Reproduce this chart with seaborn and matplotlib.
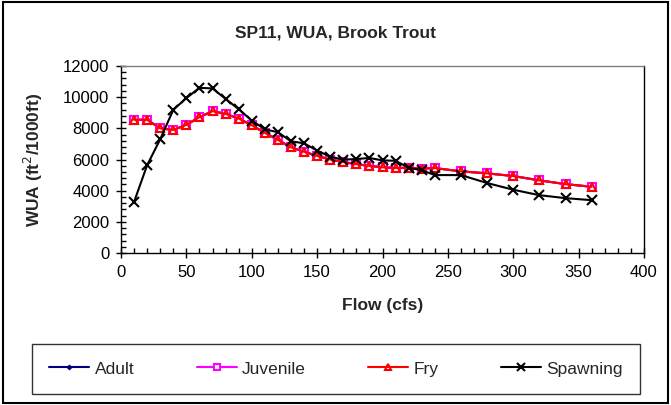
import numpy as np
import pandas as pd
import seaborn as sns
import matplotlib.pyplot as plt
from matplotlib.patches import Rectangle
from matplotlib.ticker import MultipleLocator

# ----- Data ----- #
flow = [10, 20, 30, 40, 50, 60, 70, 80, 90, 100, 110, 120, 130, 140, 150,
        160, 170, 180, 190, 200, 210, 220, 230, 240, 260, 280, 300, 320, 340, 360]

adult = [8550, 8550, 8000, 7900, 8220, 8720, 9100, 8930, 8630, 8200, 7710, 7260,
         6780, 6500, 6230, 6000, 5840, 5700, 5590, 5500, 5460, 5460, 5420, 5450,
         5240, 5110, 4940, 4660, 4420, 4250]
juvenile = [8550, 8550, 8000, 7900, 8220, 8720, 9100, 8930, 8630, 8200, 7710, 7260,
            6780, 6500, 6230, 6000, 5840, 5700, 5590, 5500, 5460, 5460, 5420, 5450,
            5240, 5110, 4940, 4660, 4420, 4250]
fry = [8550, 8550, 8000, 7900, 8220, 8720, 9100, 8930, 8630, 8200, 7710, 7260,
       6780, 6500, 6230, 6000, 5840, 5700, 5590, 5500, 5460, 5460, 5420, 5450,
       5240, 5110, 4940, 4660, 4420, 4250]
spawning = [3280, 5640, 7300, 9190, 9940, 10600, 10560, 9890, 9230, 8500, 7940, 7750,
            7170, 7040, 6570, 6180, 5990, 6030, 6100, 5940, 5920, 5460, 5320, 5000,
            5000, 4490, 4060, 3710, 3520, 3390]

sns.set_style("white")
plt.rcParams['font.family'] = ['Liberation Sans', 'DejaVu Sans']

fig = plt.figure(figsize=(6.71, 4.05), dpi=100)
ax = fig.add_axes([121 / 671, 1 - 253 / 405, (644 - 121) / 671, (253 - 66) / 405])

styles = [
    ("Adult", adult, dict(color="#000080", marker="D", markersize=3,
                          markerfacecolor="#000080", markeredgecolor="#000080")),
    ("Juvenile", juvenile, dict(color="#FF00FF", marker="s", markersize=6,
                                markerfacecolor="white", markeredgecolor="#FF00FF",
                                markeredgewidth=1.5)),
    ("Fry", fry, dict(color="#FF0000", marker="^", markersize=6,
                      markerfacecolor="none", markeredgecolor="#FF0000",
                      markeredgewidth=1.5)),
    ("Spawning", spawning, dict(color="black", marker="x", markersize=7,
                                markeredgecolor="black", markeredgewidth=1.5)),
]

for name, vals, kw in styles:
    d = pd.DataFrame({"Flow": flow, "WUA": vals})
    sns.lineplot(data=d, x="Flow", y="WUA", ax=ax, label=name, linewidth=1.5,
                 linestyle="-", **kw)

ax.set_xlim(0, 400)
ax.set_ylim(0, 12000)
ax.xaxis.set_major_locator(MultipleLocator(50))
ax.xaxis.set_minor_locator(MultipleLocator(10))
ax.yaxis.set_major_locator(MultipleLocator(2000))
ax.yaxis.set_minor_locator(MultipleLocator(400))
ax.tick_params(which="major", direction="inout", length=7, width=1, labelsize=12,
               bottom=True, left=True, colors="black", pad=5)
ax.tick_params(which="minor", direction="in", length=3.5, width=1,
               bottom=True, left=True, colors="black")

for side in ["left", "bottom", "right"]:
    ax.spines[side].set_color("black")
    ax.spines[side].set_linewidth(1)
ax.spines["top"].set_color("#808080")
ax.spines["top"].set_linewidth(1)

fig.text(0.5, 1 - 33 / 405, "SP11, WUA, Brook Trout", fontsize=12.5,
         fontweight="bold", ha="center", va="center")
ax.set_xlabel("Flow (cfs)", fontsize=12.5, fontweight="bold", labelpad=13)
ax.set_ylabel("WUA (ft$^2$/1000ft)", fontsize=12.5, fontweight="bold", labelpad=13)

handles, labels = ax.get_legend_handles_labels()
ax.get_legend().remove()
leg = fig.legend(handles, labels, loc="center", ncol=4, frameon=True,
                 bbox_to_anchor=(32 / 671, 1 - 396 / 405, 608 / 671, 54 / 405),
                 mode="expand", fontsize=12.5, markerscale=0.8,
                 handlelength=2.3, handletextpad=0.3,
                 fancybox=False, edgecolor="black", borderpad=1.0,
                 borderaxespad=0)
leg.get_frame().set_linewidth(1)

fig.patches.append(Rectangle((3 / 671, 2 / 405), 665 / 671, 401 / 405,
                             transform=fig.transFigure, fill=False,
                             edgecolor="black", linewidth=1.5))

fig.savefig("out.png", dpi=100)
